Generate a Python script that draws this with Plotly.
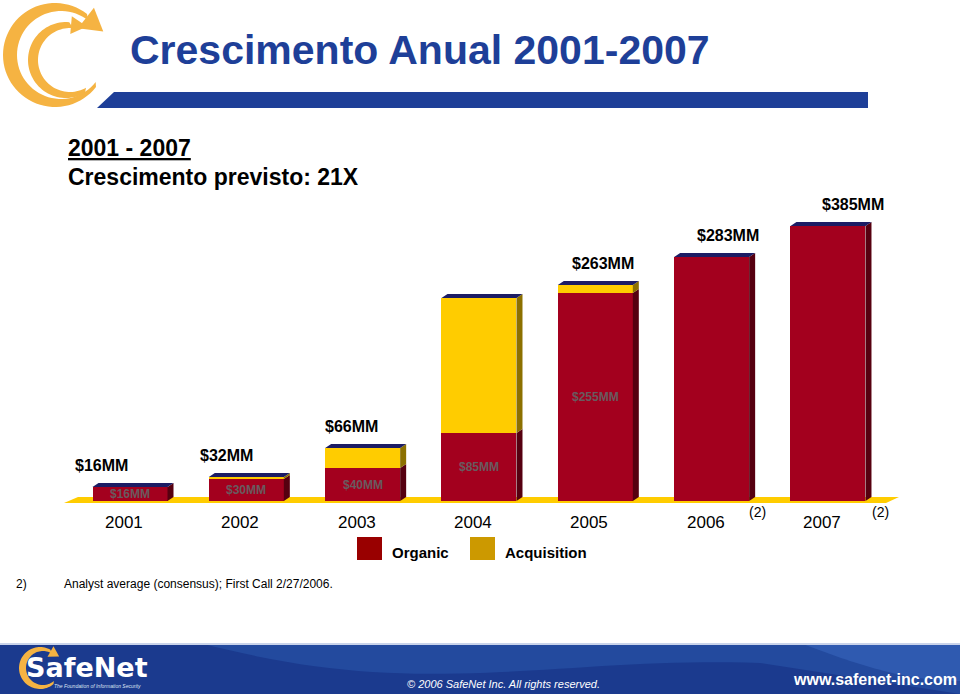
import numpy as np
import plotly.graph_objects as go

# ---------------- data ----------------
years = ["2001", "2002", "2003", "2004", "2005", "2006", "2007"]
# bar heights as drawn in the picture (chart units, 2007 bar = 385)
organic = [19.6, 30.8, 46.2, 95.2, 291.2, 341.6, 385.0]
acquisition = [0.0, 2.8, 28.0, 189.0, 11.2, 0.0, 0.0]
total_labels = ["$16MM", "$32MM", "$66MM", "", "$263MM", "$283MM", "$385MM"]
organic_labels = ["$16MM", "$30MM", "$40MM", "$85MM", "$255MM", "", ""]
note_marks = ["", "", "", "", "", "(2)", "(2)"]
legend_names = ["Organic", "Acquisition"]

# ---------------- geometry / style ----------------
W, H = 960, 694
PX_PER_X = 116.33
X0_PX = 130.0
BASE_PX = 501.0
Y_PER_PX = 1.4
BAR_W = 75 / PX_PER_X
DX = 6 / PX_PER_X
DY = 4 * Y_PER_PX

RED = "#A3001E"
YEL = "#FFCC00"
TOPC = "#1C1C64"
SIDE_RED = "#560010"
SIDE_YEL = "#8C7000"
BLUE = "#1E3F98"
ARIAL = "Liberation Sans, Arial, sans-serif"

xpos = list(range(len(years)))
tops = [o + a for o, a in zip(organic, acquisition)]


def P(px, py):
    return px / W, 1 - py / H


def path_from(points):
    s = ""
    for k, (px, py) in enumerate(points):
        x, y = P(px, py)
        s += ("M" if k == 0 else "L") + f"{x:.5f},{y:.5f} "
    return s + "Z"


fig = go.Figure()

fig.add_trace(go.Bar(x=xpos, y=organic, width=BAR_W, marker=dict(color=RED, line=dict(width=0)),
                     name=legend_names[0], hoverinfo="skip"))
fig.add_trace(go.Bar(x=xpos, y=acquisition, base=organic, width=BAR_W,
                     marker=dict(color=YEL, line=dict(width=0)), name=legend_names[1], hoverinfo="skip"))


# 3D faces derived from data
def faces(kind):
    xs, ys = [], []
    for i in xpos:
        xl, xr = i - BAR_W / 2, i + BAR_W / 2
        o, a, t = organic[i], acquisition[i], tops[i]
        if kind == "top":
            pts = [(xl, t), (xr, t), (xr + DX, t + DY), (xl + DX, t + DY), (xl, t)]
        elif kind == "side_red":
            pts = [(xr, 0), (xr, o), (xr + DX, o + DY), (xr + DX, DY), (xr, 0)]
        else:
            if a <= 0:
                continue
            pts = [(xr, o), (xr, t), (xr + DX, t + DY), (xr + DX, o + DY), (xr, o)]
        for px_, py_ in pts:
            xs.append(px_)
            ys.append(py_)
        xs.append(None)
        ys.append(None)
    return xs, ys


for kind, col in [("side_red", SIDE_RED), ("side_yel", SIDE_YEL), ("top", TOPC)]:
    fx, fy = faces(kind)
    fig.add_trace(go.Scatter(x=fx, y=fy, mode="lines", fill="toself", fillcolor=col,
                             line=dict(width=0, color=col), hoverinfo="skip", showlegend=False))

annotations = []
for i in xpos:
    if total_labels[i]:
        annotations.append(dict(x=i + (i - 3.2) * 9 / PX_PER_X, y=tops[i], yshift=22, text=f"<b>{total_labels[i]}</b>",
                                showarrow=False, font=dict(family=ARIAL, size=16, color="#000000"),
                                xanchor="center", yanchor="middle"))
    if organic_labels[i]:
        annotations.append(dict(x=i, y=organic[i] / 2, text=f"<b>{organic_labels[i]}</b>", showarrow=False,
                                font=dict(family=ARIAL, size=12, color="#6A5A5E"), xanchor="center", yanchor="middle"))
    annotations.append(dict(x=i - 6 / PX_PER_X, y=0, yshift=-21, text=years[i], showarrow=False,
                            font=dict(family=ARIAL, size=17, color="#000000"), xanchor="center", yanchor="middle"))
    if note_marks[i]:
        annotations.append(dict(x=i + (46 + (i - 5) * 7) / PX_PER_X, y=0, yshift=-11, text=note_marks[i], showarrow=False,
                                font=dict(family=ARIAL, size=14, color="#000000"), xanchor="center", yanchor="middle"))


def text_px(px, py, text, size, color="#000", xanchor="left", family=ARIAL):
    x, y = P(px, py)
    annotations.append(dict(xref="paper", yref="paper", x=x, y=y, text=text, showarrow=False,
                            xanchor=xanchor, yanchor="middle", font=dict(family=family, size=size, color=color)))


text_px(128, 50, "<b>Crescimento Anual 2001-2007</b>", 41, BLUE)
text_px(66, 148, "<b><u>2001 - 2007</u></b>", 23)
text_px(66, 177, "<b>Crescimento previsto: 21X</b>", 23)
text_px(390, 552, "<b>Organic</b>", 15)
text_px(503, 552, "<b>Acquisition</b>", 15)
text_px(14, 584, "2)", 12)
text_px(62, 584, "Analyst average (consensus); First Call 2/27/2006.", 12)
text_px(503, 684, "<i>© 2006 SafeNet Inc. All rights reserved.</i>", 11, "#FFFFFF", "center")
text_px(959, 679, "<b>www.safenet-inc.com</b>", 16, "#FFFFFF", "right")
text_px(24, 667, "<b>SafeNet</b>", 27, "#FFFFFF", "left", "DejaVu Sans, sans-serif")
text_px(52, 686, "<i>The Foundation of Information Security</i>", 5, "#DDE4F2", "left")

shapes = []
# floor
shapes.append(dict(type="path", xref="paper", yref="paper", layer="below",
                   path=path_from([(64, 503), (78, 497), (899, 497), (886, 503)]),
                   fillcolor=YEL, line=dict(width=0)))
# header bar
shapes.append(dict(type="path", xref="paper", yref="paper",
                   path=path_from([(97, 108), (114, 92), (868, 92), (868, 108)]),
                   fillcolor=BLUE, line=dict(width=0)))
# legend squares
for (x0, col) in [(357, "#990000"), (470, "#CC9900")]:
    a = P(x0, 537)
    b = P(x0 + 25, 560)
    shapes.append(dict(type="rect", xref="paper", yref="paper", x0=a[0], y0=b[1], x1=b[0], y1=a[1],
                       fillcolor=col, line=dict(width=0)))
# footer band
a = P(0, 643)
b = P(960, 694)
shapes.append(dict(type="rect", xref="paper", yref="paper", x0=a[0], y0=b[1], x1=b[0], y1=a[1],
                   fillcolor="#1B3A8E", line=dict(width=0)))


def curve(pts_fn, n=40):
    return [pts_fn(t) for t in np.linspace(0, 1, n)]


sw1 = curve(lambda t: (200 + 560 * t, 643 + 40 * np.sin(np.pi * t) * (1 - t) + 20 * t)) + [(960, 694), (960, 643)]
shapes.append(dict(type="path", xref="paper", yref="paper", path=path_from(sw1),
                   fillcolor="#234A9E", line=dict(width=0)))
sw2 = curve(lambda t: (800 + 160 * t, 643 + 38 * np.sin(np.pi * 0.5 * t))) + [(960, 643)]
shapes.append(dict(type="path", xref="paper", yref="paper", path=path_from(sw2),
                   fillcolor="#2F5AB0", line=dict(width=0)))
a = P(0, 643)
b = P(960, 645)
shapes.append(dict(type="rect", xref="paper", yref="paper", x0=a[0], y0=b[1], x1=b[0], y1=a[1],
                   fillcolor="#C9D3EA", line=dict(width=0)))


# logos (decoration)
def ring(cxo, cyo, ro, cxi, cyi, ri, a0, a1, n=60):
    t = np.radians(np.linspace(a0, a1, n))
    outer = [(cxo + ro * np.cos(v), cyo - ro * np.sin(v)) for v in t]
    inner = [(cxi + ri * np.cos(v), cyi - ri * np.sin(v)) for v in t[::-1]]
    return outer + inner


def arrow_head(cx, cy, r, ang, length, half):
    v = np.radians(ang)
    ex, ey = cx + r * np.cos(v), cy - r * np.sin(v)
    tx, ty = np.sin(v), np.cos(v)          # clockwise on screen
    nx, ny = np.cos(v), -np.sin(v)
    return [(ex + nx * half, ey + ny * half), (ex + tx * length, ey + ty * length), (ex - nx * half, ey - ny * half)]


ORANGE = "#F5B342"
shapes.append(dict(type="path", xref="paper", yref="paper",
                   path=path_from(ring(55, 55, 52, 61, 55, 44, 52, 322)),
                   fillcolor=ORANGE, line=dict(width=0)))
shapes.append(dict(type="path", xref="paper", yref="paper",
                   path=path_from(arrow_head(57, 55, 47, 52, 22, 13)), fillcolor=ORANGE, line=dict(width=0)))
shapes.append(dict(type="path", xref="paper", yref="paper",
                   path=path_from(ring(66, 60, 38, 70, 60, 32, 85, 300)),
                   fillcolor=ORANGE, line=dict(width=0)))
shapes.append(dict(type="path", xref="paper", yref="paper",
                   path=path_from(arrow_head(68, 60, 35, 85, 16, 9)), fillcolor=ORANGE, line=dict(width=0)))
# footer logo ring
shapes.append(dict(type="path", xref="paper", yref="paper",
                   path=path_from(ring(40, 668, 21, 43, 668, 17, 60, 310)),
                   fillcolor=ORANGE, line=dict(width=0)))
shapes.append(dict(type="path", xref="paper", yref="paper",
                   path=path_from(arrow_head(41, 668, 19, 60, 10, 6)), fillcolor=ORANGE, line=dict(width=0)))

fig.update_layout(
    width=W, height=H,
    margin=dict(l=0, r=0, t=0, b=0),
    paper_bgcolor="#FFFFFF", plot_bgcolor="#FFFFFF",
    barmode="overlay", bargap=0,
    showlegend=False,
    xaxis=dict(visible=False, range=[-X0_PX / PX_PER_X, (W - X0_PX) / PX_PER_X], fixedrange=True),
    yaxis=dict(visible=False, range=[-(H - BASE_PX) * Y_PER_PX, BASE_PX * Y_PER_PX], fixedrange=True),
    annotations=annotations,
    shapes=shapes,
)

fig.write_html("out.html", config={"displayModeBar": False},
               post_script="document.body.style.margin='0px';document.body.style.overflow='hidden';")
